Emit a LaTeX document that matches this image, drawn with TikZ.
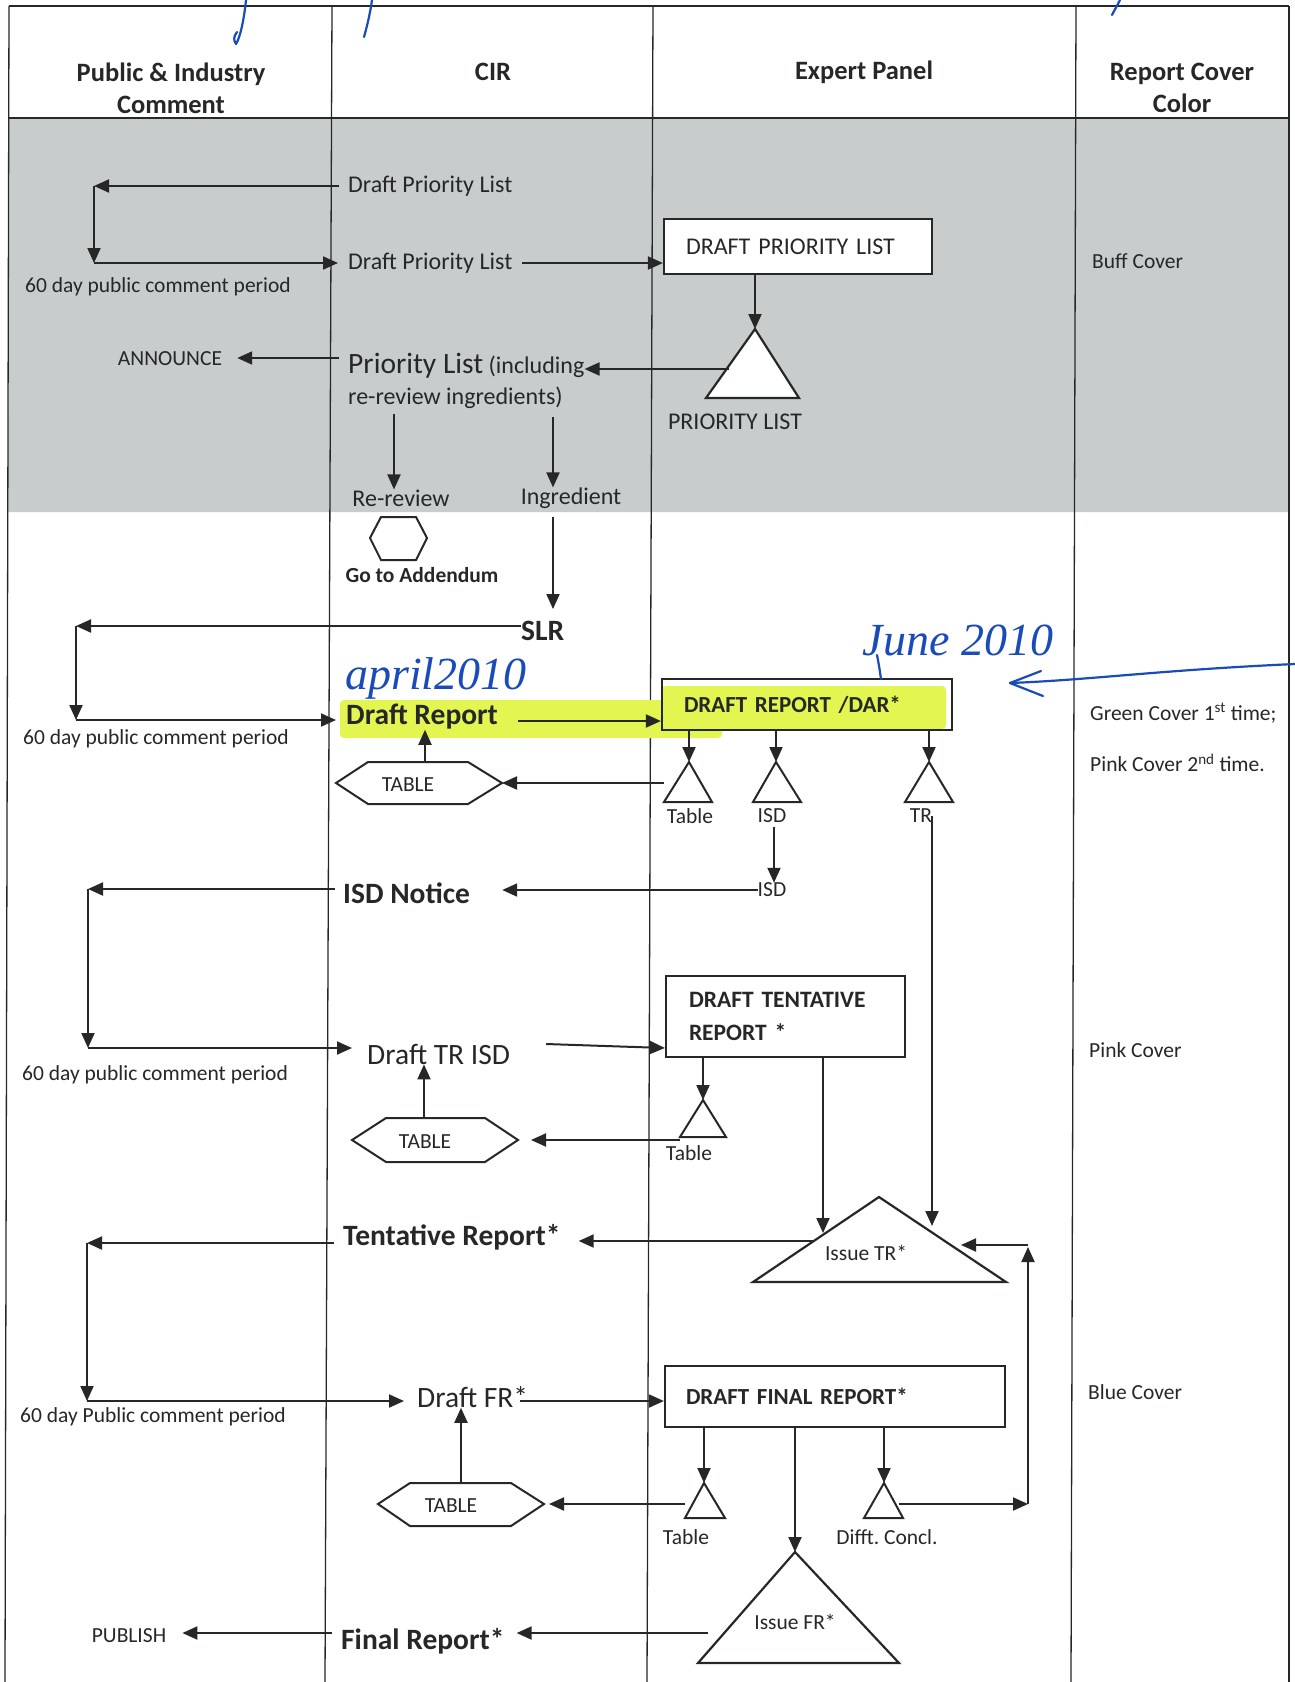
\documentclass[tikz,border=0pt]{standalone}
\usepackage{fontspec}
\setmainfont{Carlito}
\newfontfamily\handfont{Liberation Serif}
\usetikzlibrary{arrows.meta,calc}
\definecolor{ink}{RGB}{38,40,40}
\definecolor{bandgray}{RGB}{200,204,204}
\definecolor{hilite}{RGB}{226,245,80}
\definecolor{pen}{RGB}{25,75,185}
\frenchspacing
\begin{document}
\begin{tikzpicture}[x=1pt,y=-1pt,
  lane/.style={draw=ink,line width=1.3pt},
  link/.style={draw=ink,line width=2pt},
  conn/.style={link,-{Triangle[length=15pt,width=13pt]}},
  shp/.style={draw=ink,line width=2.2pt,fill=white,line join=miter},
  tsm/.style={inner sep=0pt,text=ink,font=\fontsize{21.5}{26}\selectfont},
  tsb/.style={inner sep=0pt,text=ink,font=\fontsize{21.5}{26}\selectfont\bfseries},
  tmd/.style={inner sep=0pt,text=ink,font=\fontsize{24}{29}\selectfont},
  tbg/.style={inner sep=0pt,text=ink,font=\fontsize{29.5}{34}\selectfont},
  tbgb/.style={inner sep=0pt,text=ink,font=\fontsize{29.5}{34}\selectfont\bfseries},
  head/.style={inner sep=0pt,text=ink,font=\fontsize{26.5}{32}\selectfont\bfseries,align=center},
  boxnode/.style={draw=ink,line width=2.2pt,fill=white,inner ysep=0pt,align=left,text=ink},
  hand/.style={inner sep=0pt,text=pen,font=\handfont\itshape\fontsize{46}{50}\selectfont},
  penline/.style={draw=pen,line width=2.2pt,line cap=round,line join=round},
]
\useasboundingbox (0,0) rectangle (1295,1682);
\fill[white] (0,0) rectangle (1295,1682);
% shaded band
\fill[bandgray] (9,119) -- (1289,119) -- (1289,512) -- (8,512) -- cycle;
% table lines
\draw[lane] (9,6) -- (1289,6);
\draw[lane] (9,118) -- (1289,118);
\draw[lane] (9,6) -- (5,1682);
\draw[lane] (332,6) -- (325,1682);
\draw[lane] (653,6) -- (647,1682);
\draw[lane] (1076,6) -- (1071,1682);
\draw[lane] (1289,6) -- (1289,1682);
% handwriting fragments at the top
\draw[penline] (246,0) .. controls (244,20) and (240,38) .. (236,44) .. controls (233,40) and (234,36) .. (237,32);
\draw[penline] (372,0) .. controls (370,15) and (366,30) .. (364,37);
\draw[penline] (1120,0) .. controls (1117,6) and (1114,11) .. (1112,15);
% headers
\node[head] (hpub) at (171,88) {Public \& Industry\\Comment};
\node[head] (hcir) at (493,72) {CIR};
\node[head] (hexp) at (864,72) {Expert Panel};
\node[head] (hcov) at (1182,88) {Report Cover\\Color};
% highlight
\fill[hilite,rounded corners=4pt] (340,700) rectangle (722,738);
\fill[hilite,rounded corners=4pt] (662,686) rectangle (946,729);
% ---- top band
\node[tmd,anchor=west] (dpl1) at (348,186) {Draft Priority List};
\node[tmd,anchor=west] (dpl2) at (348,263) {Draft Priority List};
\node[tsm] (sixty1) at (158,287) {60 day public comment period};
\node[boxnode,minimum height=55pt,text width=224pt,inner xsep=22pt,font=\fontsize{24}{29}\selectfont] (dplbox) at (798,246.5) {DRAFT PRIORITY LIST};
\node[tsm,anchor=west] (buff) at (1092,261) {Buff Cover};
\coordinate (plA) at (755,329);
\coordinate (plL) at (706,398);
\coordinate (plR) at (799,398);
\draw[shp] (plA) -- (plR) -- (plL) -- cycle;
\coordinate (plS) at (729,369);
\node[tmd] (pllab) at (735,422) {PRIORITY LIST};
\node[tsm] (ann) at (170,359) {ANNOUNCE};
\node[tmd,anchor=west] (pl1) at (348,366) {{\fontsize{29.5}{34}\selectfont Priority List} (including};
\node[tmd,anchor=west] (pl2) at (348,398) {re-review ingredients)};
\node[tmd] (rr) at (401,498) {Re-review};
\node[tmd] (ing) at (571,498) {Ingredient};
\coordinate (k1) at (94,186);
\coordinate (k2) at (94,263);
\coordinate (annY) at (0,358);
\coordinate (rrx) at (394,0);
\coordinate (ingx) at (553,0);
\draw[conn] ($(dpl1.west)+(-9,0)$) -- (k1);
\draw[conn] (k1) -- (k2);
\draw[conn] (k2) -- ($(dpl2.west)+(-10,0)$);
\draw[conn] ($(dpl2.east)+(10,0)$) -- (dpl2.east -| dplbox.west);
\draw[conn] (dplbox.south -| plA) -- (plA);
\draw[conn] (plS) -- (plS -| pl1.east);
\draw[conn] ($(pl1.west |- annY)+(-9,0)$) -- ($(ann.east |- annY)+(15,0)$);
\draw[conn] ($(pl2.south -| rrx)+(0,5)$) -- (rrx |- rr.north);
\draw[conn] ($(pl2.south -| ingx)+(0,8)$) -- (ingx |- ing.north);
% ---- addendum
\draw[shp,line width=2pt] (370,538) -- (381,517) -- (416,517) -- (427,538) -- (416,560) -- (381,560) -- cycle;
\coordinate (addc) at (398.5,538);
\node[tsb] (goadd) at (422,575) {Go to Addendum};
% ---- SLR / draft report
\node[tbgb,anchor=west] (slr) at (521,631) {SLR};
\draw[conn] ($(ing.south -| ingx)+(0,8)$) -- ($(ingx |- slr.north)+(0,-12)$);
\coordinate (k3) at (76,626);
\coordinate (k4) at (76,720);
\draw[conn] (slr.west |- k3) -- (k3);
\draw[conn] (k3) -- (k4);
\node[hand] (april) at (436,678) {april2010};
\node[tbgb,anchor=west] (dr) at (346,717) {Draft Report};
\node[tsm] (sixty2) at (156,739) {60 day public comment period};
\draw[conn] (k4) -- ($(k4 -| dr.west)+(-10,0)$);
\node[boxnode,fill=none,minimum height=51pt,text width=246pt,inner xsep=22pt,font=\fontsize{23}{28}\selectfont\bfseries] (dar) at (807,704.5) {DRAFT REPORT /DAR*};
\draw[conn] ($(dr.east)+(20,4)$) -- ($(dr.east -| dar.west)+(0,4)$);
\node[hand] (june) at (958,640) {June 2010};
\draw[penline] (877,655) .. controls (879,665) and (880,672) .. (881,679);
\draw[penline] (1295,664) .. controls (1160,670) and (1090,680) .. (1010,683);
\draw[penline] (1041,671) -- (1010,683) -- (1043,696);
\node[tsm,anchor=west] (green) at (1090,713) {Green Cover 1\textsuperscript{st} time;};
\node[tsm,anchor=west] (pinkb) at (1090,763) {Pink Cover 2\textsuperscript{nd} time.};
% small triangles under DAR
\coordinate (t1A) at (689,762); \coordinate (t1L) at (664,802); \coordinate (t1R) at (712,802);
\coordinate (t2A) at (776,762); \coordinate (t2L) at (753,802); \coordinate (t2R) at (801,802);
\coordinate (t3A) at (929,762); \coordinate (t3L) at (905,802); \coordinate (t3R) at (953,802);
\draw[shp,line width=2pt] (t1A) -- (t1R) -- (t1L) -- cycle;
\draw[shp,line width=2pt] (t2A) -- (t2R) -- (t2L) -- cycle;
\draw[shp,line width=2pt] (t3A) -- (t3R) -- (t3L) -- cycle;
\draw[conn] (dar.south -| t1A) -- (t1A);
\draw[conn] (dar.south -| t2A) -- (t2A);
\draw[conn] (dar.south -| t3A) -- (t3A);
\node[tsm] (t1lab) at (690,816) {Table};
\node[tsm] (isdlab) at (772,816) {ISD};
\node[tsm] (trlab) at (921,816) {TR};
% TABLE hexagon 1
\coordinate (hx1R) at (502,783);
\coordinate (hx1T) at (425,762);
\draw[shp,line width=2pt] (336,783) -- (368,762) -- (468,762) -- (hx1R) -- (468,804) -- (368,804) -- cycle;
\node[tsm] (hx1) at (408,785) {TABLE};
\draw[conn] (t1L |- hx1R) -- (hx1R);
\draw[conn] (hx1T) -- (hx1T |- dr.south);
% ISD
\coordinate (isdx) at (774,0);
\node[tsm] (isd2) at (772,890) {ISD};
\draw[conn] ($(isdlab.south -| isdx)+(0,4)$) -- (isdx |- isd2.north);
\node[tbgb,anchor=west] (isdn) at (343,893) {ISD Notice};
\draw[conn] (isd2.west) -- ($(isd2.west -| isdn.east)+(32,0)$);
\coordinate (k5) at (88,889);
\coordinate (k6) at (88,1048);
\draw[conn] ($(isdn.west |- k5)+(-8,0)$) -- (k5);
\draw[conn] (k5) -- (k6);
% Draft TR ISD
\node[tbg,anchor=west] (dtrisd) at (367,1054) {Draft TR ISD};
\node[tsm,anchor=west] (sixty3) at (22,1075) {60 day public comment period};
\draw[conn] (k6) -- ($(k6 -| dtrisd.west)+(-15,0)$);
\node[boxnode,minimum height=81pt,text width=193pt,inner xsep=23pt,font=\fontsize{23.5}{33}\selectfont\bfseries] (dtrbox) at (785.5,1016.5) {DRAFT TENTATIVE\\REPORT *};
\draw[conn] ($(dtrisd.east)+(36,-10)$) -- ($(dtrbox.west |- dtrisd.east)+(0,-6)$);
\node[tsm,anchor=west] (pink) at (1089,1050) {Pink Cover};
\coordinate (t4A) at (703,1100); \coordinate (t4L) at (680,1137); \coordinate (t4R) at (726,1137);
\draw[shp,line width=2pt] (t4A) -- (t4R) -- (t4L) -- cycle;
\draw[conn] (dtrbox.south -| t4A) -- (t4A);
\node[tsm] (t4lab) at (689,1153) {Table};
\coordinate (hx2R) at (518,1140);
\coordinate (hx2T) at (424,1118);
\draw[shp,line width=2pt] (352,1140) -- (386,1118) -- (485,1118) -- (hx2R) -- (485,1162) -- (386,1162) -- cycle;
\node[tsm] (hx2) at (425,1142) {TABLE};
\draw[conn] (t4L |- hx2R) -- ($(hx2R)+(13,0)$);
\draw[conn] (hx2T) -- (hx2T |- dtrisd.south);
% Issue TR
\coordinate (itrA) at (879,1197); \coordinate (itrL) at (753,1282); \coordinate (itrR) at (1006,1282);
\draw[shp] (itrA) -- (itrR) -- (itrL) -- cycle;
\node[tsm] (itr) at (866,1253) {Issue TR*};
\coordinate (itrL1) at (823,1233);
\coordinate (trx) at (932,1226);
\coordinate (itrL2) at (814,1241);
\coordinate (itrS) at (961,1245);
\draw[conn] (dtrbox.south -| itrL1) -- (itrL1);
\draw[conn] (trlab.center -| trx) -- (trx);
\node[tbgb,anchor=west] (tent) at (343,1237) {Tentative Report*};
\draw[conn] (itrL2) -- ($(itrL2 -| tent.east)+(18,0)$);
\coordinate (k7) at (87,1243);
\coordinate (k8) at (87,1401);
\draw[conn] ($(tent.west |- k7)+(-9,0)$) -- (k7);
\draw[conn] (k7) -- (k8);
% Draft FR
\node[tbg,anchor=west] (dfr) at (417,1397) {Draft FR*};
\node[tsm,anchor=west] (sixty4) at (20,1417) {60 day Public comment period};
\draw[conn] (k8) -- ($(k8 -| dfr.west)+(-13,0)$);
\node[boxnode,minimum height=61pt,text width=298pt,inner xsep=21pt,font=\fontsize{23}{28}\selectfont\bfseries] (dfrbox) at (835,1396.5) {DRAFT FINAL REPORT*};
\draw[conn] ($(k8 -| dfr.east)+(-8,0)$) -- (k8 -| dfrbox.west);
\node[tsm,anchor=west] (bluec) at (1088,1392) {Blue Cover};
\coordinate (t5A) at (704,1483); \coordinate (t5L) at (685,1518); \coordinate (t5R) at (725,1518);
\coordinate (t6A) at (884,1483); \coordinate (t6L) at (864,1518); \coordinate (t6R) at (903,1518);
\coordinate (ifrA) at (795,1552); \coordinate (ifrL) at (698,1663); \coordinate (ifrR) at (899,1663);
\draw[shp,line width=2pt] (t5A) -- (t5R) -- (t5L) -- cycle;
\draw[shp,line width=2pt] (t6A) -- (t6R) -- (t6L) -- cycle;
\draw[shp] (ifrA) -- (ifrR) -- (ifrL) -- cycle;
\draw[conn] (dfrbox.south -| t5A) -- (t5A);
\draw[conn] (dfrbox.south -| ifrA) -- (ifrA);
\draw[conn] (dfrbox.south -| t6A) -- (t6A);
\node[tsm] (t5lab) at (686,1537) {Table};
\node[tsm] (t6lab) at (887,1537) {Difft. Concl.};
\node[tsm] (ifr) at (795,1622) {Issue FR*};
\coordinate (hx3R) at (544,1504);
\coordinate (hx3T) at (461,1483);
\draw[shp,line width=2pt] (378,1504) -- (410,1483) -- (511,1483) -- (hx3R) -- (511,1526) -- (410,1526) -- cycle;
\node[tsm] (hx3) at (451,1506) {TABLE};
\draw[conn] (t5L |- hx3R) -- ($(hx3R)+(5,0)$);
\draw[conn] (hx3T) -- (hx3T |- dfr.south);
\coordinate (t6s) at (899,1504);
\coordinate (k9) at (1028,1504);
\coordinate (k10) at (1028,1247);
\draw[conn] (t6s) -- (k9);
\draw[conn] (k9) -- (k10);
\draw[conn] (k10 |- itrS) -- (itrS);
% Final report
\node[tbgb,anchor=west] (fin) at (341,1641) {Final Report*};
\node[tsm] (pub) at (129,1636) {PUBLISH};
\coordinate (ifrS) at (708,1633);
\draw[conn] (ifrS) -- ($(ifrS -| fin.east)+(12,0)$);
\draw[conn] ($(fin.west |- ifrS)+(-9,0)$) -- ($(pub.east |- ifrS)+(16,0)$);
\end{tikzpicture}
\end{document}
